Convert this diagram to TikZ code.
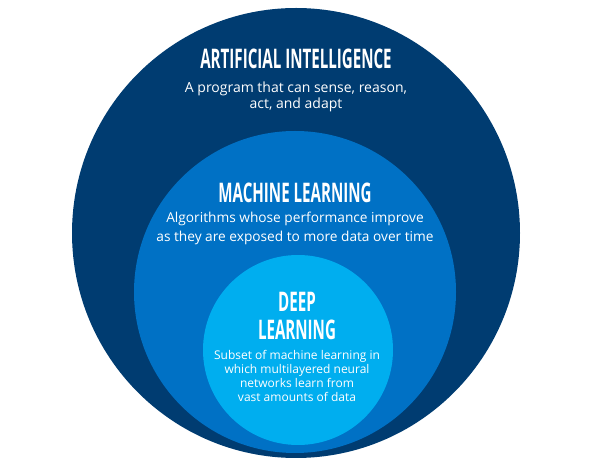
\documentclass[tikz,border=0pt]{standalone}
\usepackage{fontspec}
\setmainfont{Open Sans}
\newfontfamily\headfont[FakeStretch=0.56]{Open Sans}
\usepackage{xcolor}
\usepackage{tikz}
\definecolor{aiblue}{HTML}{003C71}
\definecolor{mlblue}{HTML}{0071C5}
\definecolor{dlblue}{HTML}{00AEEF}

\begin{document}
\begin{tikzpicture}[x=1pt, y=1pt,
    head/.style={text=white, inner sep=0pt, anchor=base,
                 font=\headfont\bfseries\fontsize{27}{27}\selectfont},
    blurb/.style={text=white, inner sep=0pt, anchor=base, align=center}]

  % ---- three nested discs, all resting on the same bottom point ------------
  \fill[aiblue] (296,238) ellipse (224 and 225);
  \fill[mlblue] (295,179) circle (161);
  \fill[dlblue] (298,121) circle (95);

  % ---- outer disc (base of a blurb = its last line) ------------------------
  \node[head] (aihead) at (296,402) {ARTIFICIAL INTELLIGENCE};
  \node[blurb, font=\fontsize{14}{16}\selectfont] (aitext) at (296,362)
    {A program that can sense, reason,\\act, and adapt};

  % ---- middle disc ---------------------------------------------------------
  \node[head] (mlhead) at (295,268) {MACHINE LEARNING};
  \node[blurb, font=\fontsize{13.7}{19}\selectfont] (mltext) at (295,229)
    {Algorithms whose performance improve\\as they are exposed to more data over time};

  % ---- inner disc ----------------------------------------------------------
  \node[head] (dlhead) at (297,159) {DEEP};
  \node[head] (dlhead2) at (297,131) {LEARNING};
  \node[blurb, font=\fontsize{12}{14}\selectfont] (dltext) at (297,69)
    {Subset of machine learning in\\which multilayered neural\\networks learn from\\vast amounts of data};

  \path (0,0) rectangle (600,471);
\end{tikzpicture}
\end{document}
